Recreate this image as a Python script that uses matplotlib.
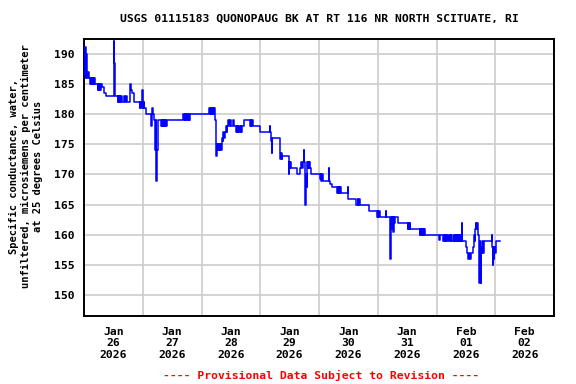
#!/usr/bin/env python3
"""
USGS specific conductance hydrograph, 01115183 Quonopaug Bk
"""

import matplotlib
matplotlib.use("Agg")
import matplotlib.pyplot as plt
import pandas as pd

# step change points: hours after 2026-01-26 00:00, and value (uS/cm)
hours = [
    0.0, 0.25, 0.5, 0.75, 1.0, 1.25, 1.5, 2.0, 2.5, 2.75, 3.0, 3.25, 3.5, 3.75, 4.0, 4.25,
    4.5, 5.6, 5.85, 6.1, 6.35, 6.6, 6.85, 7.25, 8.35, 9.0, 12.2, 12.45, 12.7, 13.8, 14.05,
    14.3, 14.55, 14.8, 15.1, 15.6, 16.5, 16.75, 17.0, 17.5, 18.8, 19.1, 19.4, 19.7, 20.6,
    22.7, 22.95, 23.2, 23.5, 23.8, 24.0, 24.2, 24.45, 24.7, 25.4, 27.4, 27.7, 28.1, 28.6,
    29.1, 29.35, 29.6, 29.85, 30.2, 31.5, 31.75, 32.0, 32.25, 32.5, 32.75, 33.0, 33.2, 33.7,
    34.0, 40.6, 40.85, 41.1, 41.35, 41.6, 41.85, 42.1, 42.4, 42.7, 43.0, 43.3, 51.2, 51.45,
    51.7, 51.95, 52.2, 52.45, 52.7, 53.0, 53.2, 53.7, 53.9, 54.15, 54.4, 54.65, 54.9, 55.15,
    55.4, 55.65, 56.0, 56.3, 56.6, 56.9, 57.2, 57.6, 58.0, 58.3, 58.6, 59.0, 59.3, 59.6,
    60.0, 61.0, 61.3, 62.1, 62.35, 62.6, 62.85, 63.1, 63.4, 63.7, 64.0, 64.3, 64.6, 65.4,
    67.9, 68.15, 68.4, 68.7, 69.0, 72.0, 75.8, 76.0, 76.4, 76.6, 76.8, 77.0, 80.2, 80.45,
    80.7, 80.9, 83.6, 83.85, 84.1, 84.35, 84.6, 84.9, 87.0, 88.4, 88.7, 89.0, 89.3, 89.7,
    90.0, 90.4, 90.65, 90.9, 91.1, 91.35, 91.6, 91.85, 92.1, 92.4, 92.7, 96.5, 96.75, 97.0,
    97.2, 97.45, 97.6, 99.9, 100.1, 100.5, 101.3, 103.4, 103.65, 103.9, 104.15, 104.4,
    104.7, 105.0, 107.7, 107.95, 111.3, 111.8, 112.1, 112.35, 112.6, 116.3, 119.8, 120.05,
    120.3, 120.55, 120.8, 123.2, 123.45, 125.2, 125.45, 125.7, 125.95, 126.2, 126.45,
    126.7, 127.0, 128.2, 132.3, 132.55, 132.8, 133.05, 133.3, 137.2, 137.45, 137.7, 137.95,
    138.2, 138.45, 138.7, 139.0, 139.3, 145.0, 145.3, 146.8, 147.05, 147.3, 147.55, 147.8,
    148.05, 148.3, 148.6, 149.0, 149.5, 149.75, 150.0, 150.3, 151.1, 151.35, 151.6, 151.85,
    152.1, 152.35, 152.6, 152.85, 153.1, 153.4, 153.7, 154.0, 154.4, 154.6, 155.9, 156.6,
    157.0, 157.3, 157.6, 157.9, 158.3, 159.1, 159.35, 159.6, 159.85, 160.0, 160.25, 160.5,
    161.0, 161.4, 161.7, 161.95, 162.1, 162.35, 162.5, 162.75, 163.0, 163.4, 166.5, 166.7,
    166.9, 167.15, 167.4, 167.65, 167.9, 168.2, 170.0,
]
values = [
    190.9, 186.5, 191.0, 186.0, 190.0, 186.0, 187.0, 186.0, 185.0, 186.0, 185.0, 186.0, 185.0, 186.0, 185.0, 186.0,
    185.0, 184.0, 185.0, 184.0, 185.0, 184.0, 185.0, 184.5, 183.5, 183.0, 192.0, 188.5, 183.0, 182.0, 183.0,
    182.0, 183.0, 182.0, 183.0, 182.0, 183.0, 182.0, 183.0, 182.0, 185.0, 184.5, 184.0, 183.5, 182.0,
    181.0, 182.0, 181.0, 182.0, 184.0, 182.0, 181.0, 182.0, 181.0, 180.0, 178.0, 181.0, 180.0, 179.0,
    174.0, 179.0, 169.0, 174.0, 179.0, 178.0, 179.0, 178.0, 179.0, 178.0, 179.0, 178.0, 179.0, 178.0,
    179.0, 180.0, 179.0, 180.0, 179.0, 180.0, 179.0, 180.0, 179.0, 180.0, 179.0, 180.0, 181.0, 180.0,
    181.0, 180.0, 181.0, 180.0, 181.0, 180.0, 181.0, 179.0, 173.0, 175.0, 174.0, 175.0, 174.0, 175.0,
    174.0, 175.0, 174.0, 176.0, 175.5, 177.0, 176.0, 177.0, 178.0, 177.0, 178.0, 179.0, 178.0, 179.0,
    178.0, 179.0, 178.0, 177.0, 178.0, 177.0, 178.0, 177.0, 178.0, 177.0, 178.0, 177.0, 178.0, 179.0,
    178.0, 179.0, 178.0, 179.0, 178.0, 177.0, 178.0, 177.0, 175.5, 176.0, 173.6, 176.0, 172.5, 173.5,
    172.5, 173.0, 170.1, 172.0, 171.0, 172.0, 171.0, 171.0, 170.0, 171.0, 172.0, 171.0, 172.0, 174.1,
    172.0, 165.0, 170.0, 168.0, 172.0, 171.0, 172.0, 171.0, 172.0, 171.0, 170.0, 169.3, 170.0, 169.0,
    170.0, 169.0, 169.0, 171.1, 169.0, 168.5, 168.0, 167.0, 168.0, 167.0, 168.0, 167.0,
    168.0, 167.0, 168.0, 166.0, 165.0, 166.0, 165.0, 166.0, 165.0, 164.0, 163.0, 164.0,
    163.0, 164.0, 163.0, 164.0, 163.0, 156.0, 163.0, 161.0, 163.0, 160.5, 163.0,
    162.0, 163.0, 162.0, 161.0, 162.0, 161.0, 162.0, 161.0, 160.0, 161.0, 160.0, 161.0,
    160.0, 161.0, 160.0, 161.0, 160.0, 159.1, 160.0, 159.0, 160.0, 159.0, 160.0, 159.0,
    160.0, 159.0, 160.0, 159.0, 160.0, 159.0, 160.0, 159.0, 160.0, 159.0, 160.0, 159.0,
    160.0, 159.0, 160.0, 159.0, 160.0, 159.0, 160.0, 159.0, 162.0, 159.0, 158.0, 157.0,
    156.0, 157.0, 156.0, 157.0, 157.0, 158.0, 160.0, 159.0, 161.0, 162.0, 161.0, 162.0,
    160.0, 152.0, 159.0, 157.0, 152.0, 158.0, 157.0, 159.0, 157.0, 159.0, 160.0, 158.0,
    155.0, 158.0, 156.0, 158.0, 157.0, 159.0, 159.0,
]

tick_days = ["2026-01-26", "2026-01-27", "2026-01-28", "2026-01-29",
             "2026-01-30", "2026-01-31", "2026-02-01", "2026-02-02"]
y_ticks = [150, 155, 160, 165, 170, 175, 180, 185, 190]

title = "USGS 01115183 QUONOPAUG BK AT RT 116 NR NORTH SCITUATE, RI"
ylabel = ("Specific conductance, water,\n"
          "unfiltered, microsiemens per centimeter\n"
          "at 25 degrees Celsius")
footer = "---- Provisional Data Subject to Revision ----"

FONT = "DejaVu Sans Mono"

start = pd.Timestamp("2026-01-26 00:00")
times = [start + pd.Timedelta(hours=h) for h in hours]

fig = plt.figure(figsize=(5.76, 3.84), dpi=100)
ax = fig.add_axes([84 / 576, 1 - 316 / 384, 470 / 576, 277 / 384])

ax.step(times, values, where="post", color="#0000FF", linewidth=1.1, zorder=3)

ax.set_xlim(start, start + pd.Timedelta(days=8))
ax.set_ylim(146.6, 192.4)

# gridlines at midnight, labels centred on each day
day_starts = [pd.Timestamp(d) for d in tick_days] + [pd.Timestamp("2026-02-03")]
ax.set_xticks(day_starts)
ax.set_xticklabels([])
noons = [pd.Timestamp(d) + pd.Timedelta(hours=12) for d in tick_days]
ax.set_xticks(noons, minor=True)
ax.set_xticklabels([pd.Timestamp(d).strftime("%b\n%d\n%Y") for d in tick_days],
                   minor=True, fontfamily=FONT, fontweight="bold", fontsize=8.2,
                   linespacing=1.15)
ax.tick_params(axis="x", which="both", length=0, pad=8)

ax.set_yticks(y_ticks)
ax.set_yticklabels([str(v) for v in y_ticks], fontfamily=FONT,
                   fontweight="bold", fontsize=8.2)
ax.tick_params(axis="y", length=0, pad=7)

ax.grid(True, which="major", color="#cccccc", linewidth=1.2)
ax.set_axisbelow(True)
for spine in ax.spines.values():
    spine.set_linewidth(1.4)
    spine.set_color("black")

fig.text(319 / 576, 1 - 19 / 384, title, ha="center", va="center",
         fontfamily=FONT, fontweight="bold", fontsize=8.2)
fig.text(26 / 576, 1 - 166 / 384, ylabel, ha="center", va="center",
         rotation=90, fontfamily=FONT, fontweight="bold", fontsize=7.5,
         linespacing=1.3)
fig.text(321 / 576, 1 - 375 / 384, footer, ha="center", va="center",
         fontfamily=FONT, fontweight="bold", fontsize=8.2, color="#FF0000")

fig.savefig("out.png", dpi=100)
